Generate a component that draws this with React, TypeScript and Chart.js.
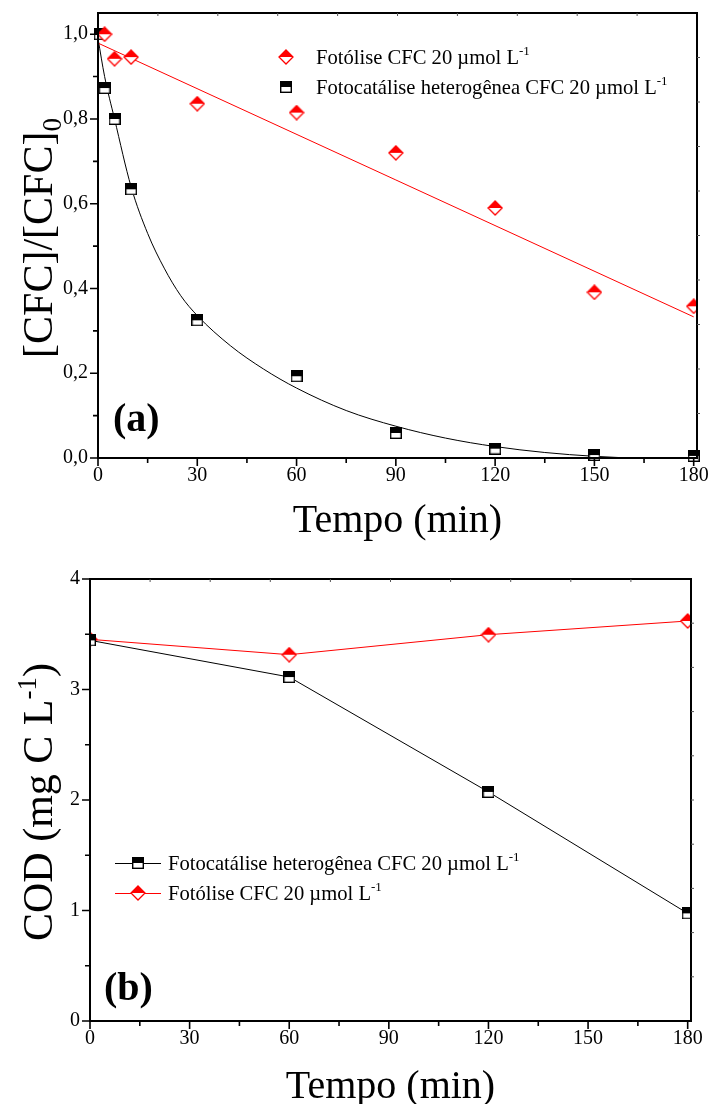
import React, { useEffect, useRef } from "react";
import { Chart, registerables } from "chart.js";
Chart.register(...registerables);

const FONT = "'Liberation Serif', 'Times New Roman', serif";

// ---------- Chart (a) data ----------
const fotoliseTimeA = [2, 5, 10, 30, 60, 90, 120, 150, 180];
const fotoliseValA = [1.0, 0.942, 0.946, 0.836, 0.815, 0.72, 0.59, 0.391, 0.358];
const catalTimeA = [0.5, 2, 5, 10, 30, 60, 90, 120, 150, 180];
const catalValA = [1.0, 0.873, 0.8, 0.634, 0.325, 0.193, 0.059, 0.022, 0.007, 0.005];
const fotoliseFitTime = [0, 180];
const fotoliseFitVal = [0.979, 0.333];
const catalFitTime = [0, 2, 5, 10, 15, 20, 25, 30, 40, 50, 60, 75, 90, 105, 120, 135, 150, 165, 180];
const catalFitVal = [0.99, 0.9, 0.8, 0.64, 0.53, 0.448, 0.383, 0.336, 0.265, 0.21, 0.165, 0.112, 0.075, 0.047, 0.027, 0.013, 0.004, -0.001, -0.003];

// ---------- Chart (b) data ----------
const timeB = [0, 60, 120, 180];
const catalB = [3.445, 3.113, 2.073, 0.974];
const fotoliseB = [3.454, 3.315, 3.496, 3.62];

// ---------- Ticks ----------
const xTicks = [0, 30, 60, 90, 120, 150, 180];
const xMinor = [15, 45, 75, 105, 135, 165];
const yTicksA = [0, 0.2, 0.4, 0.6, 0.8, 1.0];
const yTickLabelsA = ["0,0", "0,2", "0,4", "0,6", "0,8", "1,0"];
const yMinorA = [0.1, 0.3, 0.5, 0.7, 0.9];
const yTicksB = [0, 1, 2, 3, 4];
const yTickLabelsB = ["0", "1", "2", "3", "4"];
const yMinorB = [0.5, 1.5, 2.5, 3.5];

const legendFotolise = "Fotólise CFC 20 µmol L";
const legendCatal = "Fotocatálise heterogênea CFC 20 µmol L";

function makeSquare(): HTMLCanvasElement {
  const c = document.createElement("canvas");
  c.width = 12;
  c.height = 12;
  const ctx = c.getContext("2d")!;
  ctx.fillStyle = "#fff";
  ctx.fillRect(0, 0, 12, 12);
  ctx.fillStyle = "#000";
  ctx.fillRect(0, 0, 12, 6);
  ctx.strokeStyle = "#000";
  ctx.lineWidth = 1.4;
  ctx.strokeRect(0.7, 0.7, 10.6, 10.6);
  return c;
}

function makeDiamond(): HTMLCanvasElement {
  const c = document.createElement("canvas");
  c.width = 16;
  c.height = 16;
  const ctx = c.getContext("2d")!;
  ctx.beginPath();
  ctx.moveTo(8, 1);
  ctx.lineTo(15, 8);
  ctx.lineTo(8, 15);
  ctx.lineTo(1, 8);
  ctx.closePath();
  ctx.fillStyle = "#fff";
  ctx.fill();
  ctx.beginPath();
  ctx.moveTo(1, 8);
  ctx.lineTo(8, 1);
  ctx.lineTo(15, 8);
  ctx.closePath();
  ctx.fillStyle = "#ff0000";
  ctx.fill();
  ctx.beginPath();
  ctx.moveTo(8, 1);
  ctx.lineTo(15, 8);
  ctx.lineTo(8, 15);
  ctx.lineTo(1, 8);
  ctx.closePath();
  ctx.strokeStyle = "#ff0000";
  ctx.lineWidth = 1.3;
  ctx.stroke();
  return c;
}

type Part = { t: string; size: number; dy?: number; bold?: boolean };

function richWidth(ctx: CanvasRenderingContext2D, parts: Part[]) {
  let w = 0;
  for (const p of parts) {
    ctx.font = `${p.bold ? "bold " : ""}${p.size}px ${FONT}`;
    w += ctx.measureText(p.t).width;
  }
  return w;
}

function drawRich(ctx: CanvasRenderingContext2D, parts: Part[], x: number, baseline: number) {
  ctx.textBaseline = "alphabetic";
  ctx.textAlign = "left";
  let cx = x;
  for (const p of parts) {
    ctx.font = `${p.bold ? "bold " : ""}${p.size}px ${FONT}`;
    ctx.fillText(p.t, cx, baseline + (p.dy || 0));
    cx += ctx.measureText(p.t).width;
  }
}

type FrameCfg = {
  yTicks: number[];
  yLabels: string[];
  yMinor: number[];
  yTitle: Part[];
  yTitleX: number;
  yTitleY: number;
  xTitleY: number;
  panel: string;
  panelX: number;
  panelY: number;
  legend: (ctx: CanvasRenderingContext2D) => void;
};

function framePlugin(cfg: FrameCfg) {
  return {
    id: "frame",
    afterDraw(chart: any) {
      const ctx: CanvasRenderingContext2D = chart.ctx;
      const a = chart.chartArea;
      const xs = chart.scales.x;
      const ys = chart.scales.y;
      ctx.save();
      ctx.fillStyle = "#000";
      ctx.strokeStyle = "#000";
      ctx.lineWidth = 2;
      ctx.strokeRect(a.left, a.top, a.right - a.left, a.bottom - a.top);
      ctx.lineWidth = 1.6;
      ctx.beginPath();
      for (const v of xTicks) {
        const px = xs.getPixelForValue(v);
        ctx.moveTo(px, a.bottom);
        ctx.lineTo(px, a.bottom + 8);
      }
      for (const v of xMinor) {
        const px = xs.getPixelForValue(v);
        ctx.moveTo(px, a.bottom);
        ctx.lineTo(px, a.bottom + 5);
      }
      for (const v of cfg.yTicks) {
        const py = ys.getPixelForValue(v);
        ctx.moveTo(a.left, py);
        ctx.lineTo(a.left - 8, py);
      }
      for (const v of cfg.yMinor) {
        const py = ys.getPixelForValue(v);
        ctx.moveTo(a.left, py);
        ctx.lineTo(a.left - 5, py);
      }
      ctx.stroke();
      ctx.lineWidth = 1;
      ctx.strokeStyle = "#555";
      ctx.beginPath();
      for (let i = 1; i < 10; i++) {
        const px = a.left + ((a.right - a.left) * i) / 10;
        ctx.moveTo(px, a.top);
        ctx.lineTo(px, a.top + 3);
        const py = a.top + ((a.bottom - a.top) * i) / 10;
        ctx.moveTo(a.right, py);
        ctx.lineTo(a.right + 3, py);
      }
      ctx.stroke();

      ctx.fillStyle = "#000";
      ctx.font = `20px ${FONT}`;
      ctx.textAlign = "center";
      ctx.textBaseline = "middle";
      xTicks.forEach((v) => {
        ctx.fillText(String(v), xs.getPixelForValue(v), a.bottom + 18);
      });
      ctx.textAlign = "right";
      cfg.yTicks.forEach((v, i) => {
        ctx.fillText(cfg.yLabels[i], a.left - 10, ys.getPixelForValue(v));
      });

      ctx.font = `40px ${FONT}`;
      ctx.textAlign = "center";
      ctx.textBaseline = "middle";
      ctx.fillText("Tempo (min)", (a.left + a.right) / 2, cfg.xTitleY);

      ctx.save();
      ctx.translate(cfg.yTitleX, cfg.yTitleY);
      ctx.rotate(-Math.PI / 2);
      const w = richWidth(ctx, cfg.yTitle);
      drawRich(ctx, cfg.yTitle, -w / 2, 0);
      ctx.restore();

      ctx.font = `bold 40px ${FONT}`;
      ctx.textAlign = "left";
      ctx.textBaseline = "alphabetic";
      ctx.fillText(cfg.panel, cfg.panelX, cfg.panelY);

      cfg.legend(ctx);
      ctx.restore();
    },
  };
}

const pts = (xs: number[], ys: number[]) => xs.map((x, i) => ({ x, y: ys[i] }));

export default function App() {
  const refA = useRef<HTMLCanvasElement>(null);
  const refB = useRef<HTMLCanvasElement>(null);

  useEffect(() => {
    const sq = makeSquare();
    const di = makeDiamond();

    const legendA = (ctx: CanvasRenderingContext2D) => {
      ctx.fillStyle = "#000";
      const rows: [HTMLCanvasElement, string, number][] = [
        [di, legendFotolise, 57],
        [sq, legendCatal, 87],
      ];
      for (const [img, txt, y] of rows) {
        ctx.drawImage(img, 286 - img.width / 2, y - img.height / 2);
        drawRich(ctx, [{ t: txt, size: 20.6 }, { t: "-1", size: 13, dy: -9 }], 316, y + 7);
      }
    };

    const legendB = (ctx: CanvasRenderingContext2D) => {
      const rows: [HTMLCanvasElement, string, number, string][] = [
        [sq, legendCatal, 311, "#000"],
        [di, legendFotolise, 341, "#ff0000"],
      ];
      for (const [img, txt, y, col] of rows) {
        ctx.strokeStyle = col;
        ctx.lineWidth = 1;
        ctx.beginPath();
        ctx.moveTo(115, y + 0.5);
        ctx.lineTo(161, y + 0.5);
        ctx.stroke();
        ctx.drawImage(img, 138 - img.width / 2, y - img.height / 2);
        ctx.fillStyle = "#000";
        drawRich(ctx, [{ t: txt, size: 20.6 }, { t: "-1", size: 13, dy: -9 }], 168, y + 7);
      }
    };

    const chartA = new Chart(refA.current!, {
      type: "scatter",
      data: {
        datasets: [
          {
            label: "Fotólise",
            data: pts(fotoliseTimeA, fotoliseValA),
            pointStyle: di as any,
            showLine: false,
            clip: 0,
          } as any,
          {
            label: "Fotocatálise",
            data: pts(catalTimeA, catalValA),
            pointStyle: sq as any,
            showLine: false,
            clip: false,
          } as any,
          {
            label: "fit fotólise",
            data: pts(fotoliseFitTime, fotoliseFitVal),
            showLine: true,
            borderColor: "#ff0000",
            borderWidth: 1,
            pointRadius: 0,
            clip: 0,
          } as any,
          {
            label: "fit fotocatálise",
            data: pts(catalFitTime, catalFitVal),
            showLine: true,
            borderColor: "#000",
            borderWidth: 1,
            pointRadius: 0,
            cubicInterpolationMode: "monotone",
            clip: 0,
          } as any,
        ],
      },
      options: {
        animation: false,
        responsive: false,
        devicePixelRatio: 1,
        layout: { padding: { left: 98, top: 13, right: 12, bottom: 94 } },
        plugins: { legend: { display: false }, tooltip: { enabled: false } },
        scales: {
          x: { type: "linear", min: 0, max: 181, display: false },
          y: { type: "linear", min: 0, max: 1.05, display: false },
        },
      },
      plugins: [
        framePlugin({
          yTicks: yTicksA,
          yLabels: yTickLabelsA,
          yMinor: yMinorA,
          yTitle: [
            { t: "[CFC]/[CFC]", size: 42 },
            { t: "0", size: 27, dy: 9 },
          ],
          yTitleX: 52,
          yTitleY: 238,
          xTitleY: 521,
          panel: "(a)",
          panelX: 113,
          panelY: 431,
          legend: legendA,
        }) as any,
      ],
    });

    const chartB = new Chart(refB.current!, {
      type: "scatter",
      data: {
        datasets: [
          {
            label: "Fotocatálise",
            data: pts(timeB, catalB),
            pointStyle: sq as any,
            showLine: true,
            borderColor: "#000",
            borderWidth: 1,
            clip: 0,
          } as any,
          {
            label: "Fotólise",
            data: pts(timeB, fotoliseB),
            pointStyle: di as any,
            showLine: true,
            borderColor: "#ff0000",
            borderWidth: 1,
            clip: 0,
          } as any,
        ],
      },
      options: {
        animation: false,
        responsive: false,
        devicePixelRatio: 1,
        layout: { padding: { left: 90, top: 27, right: 18, bottom: 83 } },
        plugins: { legend: { display: false }, tooltip: { enabled: false } },
        scales: {
          x: { type: "linear", min: 0, max: 181, display: false },
          y: { type: "linear", min: 0, max: 4, display: false },
        },
      },
      plugins: [
        framePlugin({
          yTicks: yTicksB,
          yLabels: yTickLabelsB,
          yMinor: yMinorB,
          yTitle: [
            { t: "COD (mg C L", size: 42 },
            { t: "-1", size: 27, dy: -16 },
            { t: ")", size: 42 },
          ],
          yTitleX: 52,
          yTitleY: 250,
          xTitleY: 535,
          panel: "(b)",
          panelX: 104,
          panelY: 448,
          legend: legendB,
        }) as any,
      ],
    });

    return () => {
      chartA.destroy();
      chartB.destroy();
    };
  }, []);

  return (
    <div style={{ position: "absolute", left: 0, top: 0, width: 709, height: 1104, background: "#fff" }}>
      <canvas ref={refA} width={709} height={552} style={{ position: "absolute", left: 0, top: 0 }} />
      <canvas ref={refB} width={709} height={552} style={{ position: "absolute", left: 0, top: 552 }} />
    </div>
  );
}
